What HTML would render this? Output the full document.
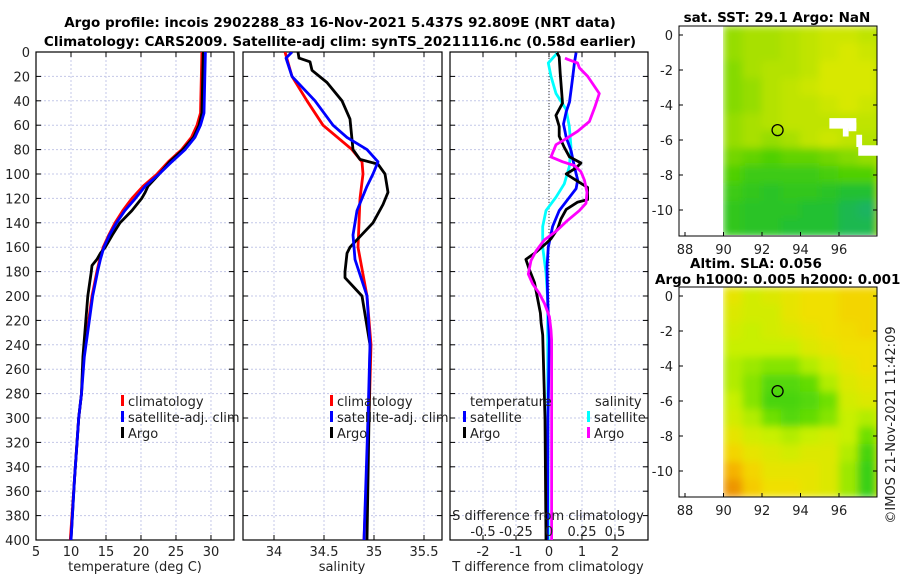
<!DOCTYPE html>
<html><head><meta charset="utf-8"><style>
body{margin:0;background:#fff}
svg{display:block;font-family:"DejaVu Sans","Liberation Sans",sans-serif}
</style></head><body>
<svg id="chart" width="900" height="580" viewBox="0 0 900 580" xmlns="http://www.w3.org/2000/svg">
<defs><filter id="blur" x="0" y="0" width="1" height="1"><feGaussianBlur stdDeviation="4"/></filter>
<clipPath id="c1"><rect x="36" y="52" width="198" height="488"/></clipPath>
<clipPath id="c2"><rect x="243" y="52" width="199" height="488"/></clipPath>
<clipPath id="c3"><rect x="450" y="52" width="198" height="488"/></clipPath>
<clipPath id="m1"><rect x="679" y="26" width="198" height="209"/></clipPath>
<clipPath id="m2"><rect x="679" y="287" width="198" height="210"/></clipPath>
</defs>
<text x="340" y="27" text-anchor="middle" font-size="13.5" font-weight="bold">Argo profile: incois 2902288_83 16-Nov-2021 5.437S 92.809E (NRT data)</text>
<text x="340" y="46" text-anchor="middle" font-size="13.5" font-weight="bold">Climatology: CARS2009. Satellite-adj clim: synTS_20211116.nc (0.58d earlier)</text>
<g id="g"></g>
</svg>
<script>
// ---- data ----
const depthTicks=[0,20,40,60,80,100,120,140,160,180,200,220,240,260,280,300,320,340,360,380,400];
const tTicks=[5,10,15,20,25,30];
const sTicks=[34,34.5,35,35.5];
const dtTicks=[-2,-1,0,1,2];
const dsTicks=[-0.5,-0.25,0,0.25,0.5];
const dsTickLabels=["-0.5","-0.25","0","0.25","0.5"];
const tempClimDepth=[0,50,60,70,80,90,100,110,120,130,140,150,160,170,180,200,250,280,300,350,400];
const tempClimVal=[28.7,28.5,28.0,27.2,25.8,23.9,22.3,20.3,18.7,17.4,16.3,15.4,14.6,14.1,13.7,13.0,11.8,11.5,11.1,10.5,9.9];
const tempSatDepth=[0,50,60,70,80,90,100,110,120,130,140,150,160,170,180,200,250,280,300,350,400];
const tempSatVal=[29.2,29.0,28.5,27.7,26.3,24.4,22.6,20.6,19.2,17.7,16.5,15.5,14.7,14.2,13.8,13.1,11.9,11.5,11.1,10.5,10.0];
const tempArgoDepth=[0,50,60,70,80,90,100,110,115,120,130,140,150,160,165,170,175,180,200,250,280,300,350,400];
const tempArgoVal=[28.9,28.7,28.3,27.5,26.0,24.1,22.6,21.0,20.6,20.1,18.7,17.0,15.9,14.9,14.2,13.7,13.0,12.9,12.4,11.7,11.5,11.1,10.5,10.0];
const salClimDepth=[0,20,40,60,80,90,100,120,160,200,240,300,400];
const salClimVal=[34.11,34.18,34.33,34.49,34.78,34.88,34.89,34.86,34.84,34.93,34.97,34.95,34.90];
const salSatDepth=[0,5,20,40,60,70,80,90,100,110,130,150,170,200,240,300,400];
const salSatVal=[34.18,34.12,34.18,34.41,34.59,34.73,34.93,35.04,34.99,34.93,34.83,34.79,34.81,34.93,34.96,34.94,34.90];
const salArgoDepth=[0,5,8,15,25,40,55,80,88,92,100,115,125,140,160,165,180,185,200,220,240,300,400];
const salArgoVal=[34.24,34.25,34.36,34.38,34.53,34.68,34.76,34.79,34.86,35.04,35.11,35.14,35.09,34.99,34.76,34.73,34.71,34.71,34.88,34.92,34.96,34.95,34.93];
const dtSatDepth=[0.5,9,20,31,41,49,59,70,81,94,105,112,119,130,143,160,176,203,236,300,400];
const dtSatVal=[0.82,0.77,0.72,0.67,0.62,0.52,0.44,0.52,0.67,0.77,0.87,0.82,0.62,0.31,0.11,-0.02,-0.06,-0.04,0.01,-0.03,-0.05];
const dtArgoDepth=[0.5,4,17.5,31,42,52,61,69,78,86,91,95,100,106,111,121,123,129,137,145,153,157,164,170,178,189,203,214,222,232,300,400];
const dtArgoVal=[0.24,0.31,0.34,0.38,0.41,0.21,0.31,0.31,0.46,0.62,0.97,0.82,0.52,0.87,1.17,1.17,0.87,0.52,0.36,0.26,0.06,-0.09,-0.39,-0.70,-0.60,-0.44,-0.34,-0.26,-0.24,-0.19,-0.12,-0.09];
const dsSatDepth=[0.5,9,20,34,47,61,78,94,108,119,130,143,160,181,203,236,300,400];
const dsSatVal=[0.066,-0.005,0.015,0.053,0.129,0.154,0.167,0.154,0.116,0.053,-0.023,-0.048,-0.048,-0.023,-0.01,-0.01,-0.008,-0.005];
const dsArgoDepth=[5,6,9,13,20,34,45,57,65,72,76,86,90,93,98,105,115,124,130,138,147,154,163,171,182,190,198,206,217,228,236,300,400];
const dsArgoVal=[0.121,0.141,0.217,0.23,0.293,0.381,0.348,0.306,0.217,0.116,0.053,0.015,0.104,0.192,0.242,0.268,0.288,0.28,0.23,0.141,0.053,-0.035,-0.098,-0.136,-0.157,-0.124,-0.073,-0.035,0.003,0.015,0.02,0.02,0.02];
const mapLonTicks=[88,90,92,94,96];
const mapLatTicks=[0,-2,-4,-6,-8,-10];
const mapLons=[90,91,92,93,94,95,96,97];
const mapLats=[0.5,-0.5,-1.5,-2.5,-3.5,-4.5,-5.5,-6.5,-7.5,-8.5,-9.5,-10.5];
const sstGrid=[
[.55,.5,.5,.45,.4,.35,.35,.4],[.55,.5,.5,.45,.4,.35,.3,.35],[.6,.5,.45,.45,.4,.3,.3,.3],
[.6,.55,.45,.4,.35,.3,.3,.3],[.6,.55,.45,.4,.4,.35,.3,.35],[.55,.5,.45,.4,.4,.4,.4,.4],
[.55,.5,.55,.5,.4,.35,.4,.45],[.65,.7,.75,.7,.7,.65,.6,.55],[.75,.85,.85,.85,.85,.8,.75,.75],
[.85,.9,.95,.9,.9,.95,1,1],[.9,.95,.95,.95,1,1,1.1,1.15],[.9,.95,.95,1,1,1,1.1,1.1]];
const slaGrid=[
[.35,.45,.4,.35,.3,.3,.25,.25],[.4,.45,.45,.35,.3,.3,.25,.25],[.45,.5,.45,.4,.35,.3,.28,.25],
[.5,.5,.5,.5,.4,.35,.3,.3],[.55,.6,.65,.65,.55,.45,.35,.3],[.55,.65,.8,.8,.75,.55,.4,.35],
[.5,.65,.85,.85,.8,.7,.45,.4],[.45,.55,.7,.8,.75,.65,.5,.55],[.35,.45,.5,.55,.5,.45,.5,.7],
[.25,.35,.4,.45,.4,.4,.55,.85],[.12,.25,.35,.35,.35,.4,.6,.9],[.05,.2,.3,.3,.35,.4,.6,.9]];
const argoLon=92.809, argoLat=-5.437;

const NS="http://www.w3.org/2000/svg";
const G=document.getElementById('g');
function mk(tag,at,parent){const e=document.createElementNS(NS,tag);for(const k in at)e.setAttribute(k,at[k]);(parent||G).appendChild(e);return e;}
const yD=d=>52+d*1.22;
function panel(x0,w,xmin,xmax,ticks,labels,clip,name){
  const xs=v=>x0+(v-xmin)/(xmax-xmin)*w;
  const g=mk('g',{});
  
  
  depthTicks.forEach(d=>{const l=mk('line',{x1:x0,x2:x0+w,y1:yD(d),y2:yD(d),stroke:'#c4c8e8','stroke-dasharray':'2,2','stroke-width':1},g);
    
    mk('line',{x1:x0,x2:x0+5,y1:yD(d),y2:yD(d),stroke:'#000'},g);mk('line',{x1:x0+w-5,x2:x0+w,y1:yD(d),y2:yD(d),stroke:'#000'},g);});
  ticks.forEach((t,i)=>{const X=xs(t);const l=mk('line',{x1:X,x2:X,y1:52,y2:540,stroke:'#c4c8e8','stroke-dasharray':'2,2'},g);
    
    mk('line',{x1:X,x2:X,y1:535,y2:540,stroke:'#000'},g);mk('line',{x1:X,x2:X,y1:52,y2:57,stroke:'#000'},g);
    const tx=mk('text',{x:X,y:556,'text-anchor':'middle','font-size':13,fill:'#222'},g);tx.textContent=labels[i];
    });
  const r=mk('rect',{x:x0,y:52,width:w,height:488,fill:'none',stroke:'#000','stroke-width':1.2},g);
  return {xs,g};
}
function line(p,depths,vals,color,clip,name){
  const pts=depths.map((d,i)=>p.xs(vals[i]).toFixed(1)+','+yD(d).toFixed(1)).join(' ');
  const l=mk('polyline',{points:pts,fill:'none',stroke:color,'stroke-width':2.8,'stroke-linejoin':'round','clip-path':'url(#'+clip+')'},p.g);
  
}
function txt(x,y,s,name,opt){const t=mk('text',Object.assign({x,y,'font-size':13,fill:'#222'},opt||{}));t.textContent=s;
  return t;}
function legend(x,y,color,s,name){const m=mk('rect',{x:x,y:y-11,width:3,height:11,fill:color});
  txt(x+7,y,s,name);}

// y labels
depthTicks.forEach(d=>{txt(30,yD(d)+5,String(d),'y-tick-label',{'text-anchor':'end'});});

const p1=panel(36,198,5,33.29,tTicks,tTicks.map(String),'c1','temperature-panel');
line(p1,tempClimDepth,tempClimVal,'#ff0000','c1','temp-climatology-line');
line(p1,tempArgoDepth,tempArgoVal,'#000000','c1','temp-argo-line');
line(p1,tempSatDepth,tempSatVal,'#0000ff','c1','temp-satellite-line');
txt(135,571,'temperature (deg C)','x-axis-title-temperature',{'text-anchor':'middle'});
legend(121,406,'#ff0000','climatology','legend-climatology');
legend(121,422,'#0000ff','satellite-adj. clim','legend-satellite');
legend(121,438,'#000','Argo','legend-argo');

const p2=panel(243,199,33.69,35.68,sTicks,sTicks.map(String),'c2','salinity-panel');
line(p2,salClimDepth,salClimVal,'#ff0000','c2','sal-climatology-line');
line(p2,salArgoDepth,salArgoVal,'#000000','c2','sal-argo-line');
line(p2,salSatDepth,salSatVal,'#0000ff','c2','sal-satellite-line');
txt(342,571,'salinity','x-axis-title-salinity',{'text-anchor':'middle'});
legend(330,406,'#ff0000','climatology','legend-climatology-2');
legend(330,422,'#0000ff','satellite-adj. clim','legend-satellite-2');
legend(330,438,'#000','Argo','legend-argo-2');

const p3=panel(450,198,-3,3,dtTicks,dtTicks.map(String),'c3','difference-panel');
const ps={xs:v=>450+(v+0.75)/1.5*198,g:p3.g};
const z=mk('line',{x1:p3.xs(0),x2:p3.xs(0),y1:52,y2:540,stroke:'#333','stroke-dasharray':'1,2'},p3.g);

line(ps,dsSatDepth,dsSatVal,'#00ffff','c3','sal-diff-satellite-line');
line(p3,dtSatDepth,dtSatVal,'#0000ff','c3','temp-diff-satellite-line');
line(p3,dtArgoDepth,dtArgoVal,'#000000','c3','temp-diff-argo-line');
line(ps,dsArgoDepth,dsArgoVal,'#ff00ff','c3','sal-diff-argo-line');
txt(548,571,'T difference from climatology','x-axis-title-tdiff',{'text-anchor':'middle'});
txt(548,520,'S difference from climatology','s-axis-title',{'text-anchor':'middle'});
dsTicks.forEach((t,i)=>txt(ps.xs(t),536,dsTickLabels[i],'s-tick-label',{'text-anchor':'middle'}));
txt(470,406,'temperature','legend-temperature-heading');
legend(463,422,'#0000ff','satellite','legend-t-satellite');
legend(463,438,'#000','Argo','legend-t-argo');
txt(595,406,'salinity','legend-salinity-heading');
legend(587,422,'#00ffff','satellite','legend-s-satellite');
legend(587,438,'#ff00ff','Argo','legend-s-argo');

// maps
function lerpCol(stops,v){v=Math.max(stops[0][0],Math.min(stops[stops.length-1][0],v));
  for(let i=1;i<stops.length;i++){if(v<=stops[i][0]){const a=stops[i-1],b=stops[i],f=(v-a[0])/(b[0]-a[0]);
    const c=a[1].map((x,k)=>Math.round(x+(b[1][k]-x)*f));return 'rgb('+c.join(',')+')';}}}
const sstStops=[[0,[255,208,0]],[0.3,[216,232,0]],[0.5,[168,224,0]],[0.75,[80,208,0]],[1,[32,192,48]],[1.2,[24,176,112]]];
const slaStops=[[0,[232,128,0]],[0.15,[248,192,0]],[0.3,[240,224,0]],[0.5,[200,240,0]],[0.7,[112,224,0]],[1,[32,200,32]]];
function map(top,grid,stops,clip,name,title){
  const lx=v=>685+(v-88)*19.25, ly=v=>top+9+(-v)*17.5;
  const g=mk('g',{});
  const img=mk('g',{'clip-path':'url(#'+clip+')'},g);
  const inner=mk('g',{filter:'url(#blur)'},img);
  grid.forEach((row,i)=>row.forEach((v,j)=>{const c=mk('rect',{x:lx(mapLons[j])-0.5,y:ly(mapLats[i])-0.5,width:20.3,height:18.5,fill:lerpCol(stops,v)},inner);
    }));
  mk('rect',{x:lx(mapLons[mapLons.length-1])+19,y:top,width:20,height:215,fill:lerpCol(stops,grid[6][7])},inner);
  mk('rect',{x:679,y:top-5,width:lx(90)-679-2,height:220,fill:'#fff'},img);
  const fr=mk('rect',{x:679,y:top,width:198,height:210,fill:'none',stroke:'#000','stroke-width':1},g);
  mapLatTicks.forEach(t=>{mk('line',{x1:679,x2:683,y1:ly(t),y2:ly(t),stroke:'#000'},g);mk('line',{x1:873,x2:877,y1:ly(t),y2:ly(t),stroke:'#000'},g);
    txt(673,ly(t)+5,String(t),'map-lat-label',{'text-anchor':'end'});});
  mapLonTicks.forEach(t=>{mk('line',{x1:lx(t),x2:lx(t),y1:top+206,y2:top+210,stroke:'#000'},g);
    txt(lx(t),top+228,String(t),'map-lon-label',{'text-anchor':'middle'});});
  const c=mk('circle',{cx:lx(argoLon),cy:ly(argoLat),r:5.5,fill:'none',stroke:'#000','stroke-width':1.3},g);
  
  return {g,lx,ly};
}
const m1=map(26,sstGrid,sstStops,'m1','sst-map');
[[95.5,-4.75,1.4,0.6],[96.5,-5.0,0.4,0.5],[97.0,-6.3,1.0,0.6],[96.9,-5.7,0.3,0.7],[96.2,-5.3,0.3,0.5]].forEach(r=>{
  const e=mk('rect',{x:m1.lx(r[0]),y:m1.ly(r[1]),width:r[2]*19.25,height:r[3]*17.5,fill:'#fff'},m1.g);
  });
txt(777,22,'sat. SST: 29.1 Argo: NaN','sst-map-title',{'text-anchor':'middle','font-weight':'bold','font-size':13.5,fill:'#000'});
map(287,slaGrid,slaStops,'m2','sla-map');
txt(756,268,'Altim. SLA: 0.056','sla-map-title',{'text-anchor':'middle','font-weight':'bold','font-size':13.5,fill:'#000'});
txt(655,284,'Argo h1000: 0.005 h2000: 0.0011','sla-map-subtitle',{'font-weight':'bold','font-size':13.5,fill:'#000'});
txt(895,425,'©IMOS 21-Nov-2021 11:42:09','timestamp-label',{'text-anchor':'middle','transform':'rotate(-90 895 425)'});
</script>
</body></html>
